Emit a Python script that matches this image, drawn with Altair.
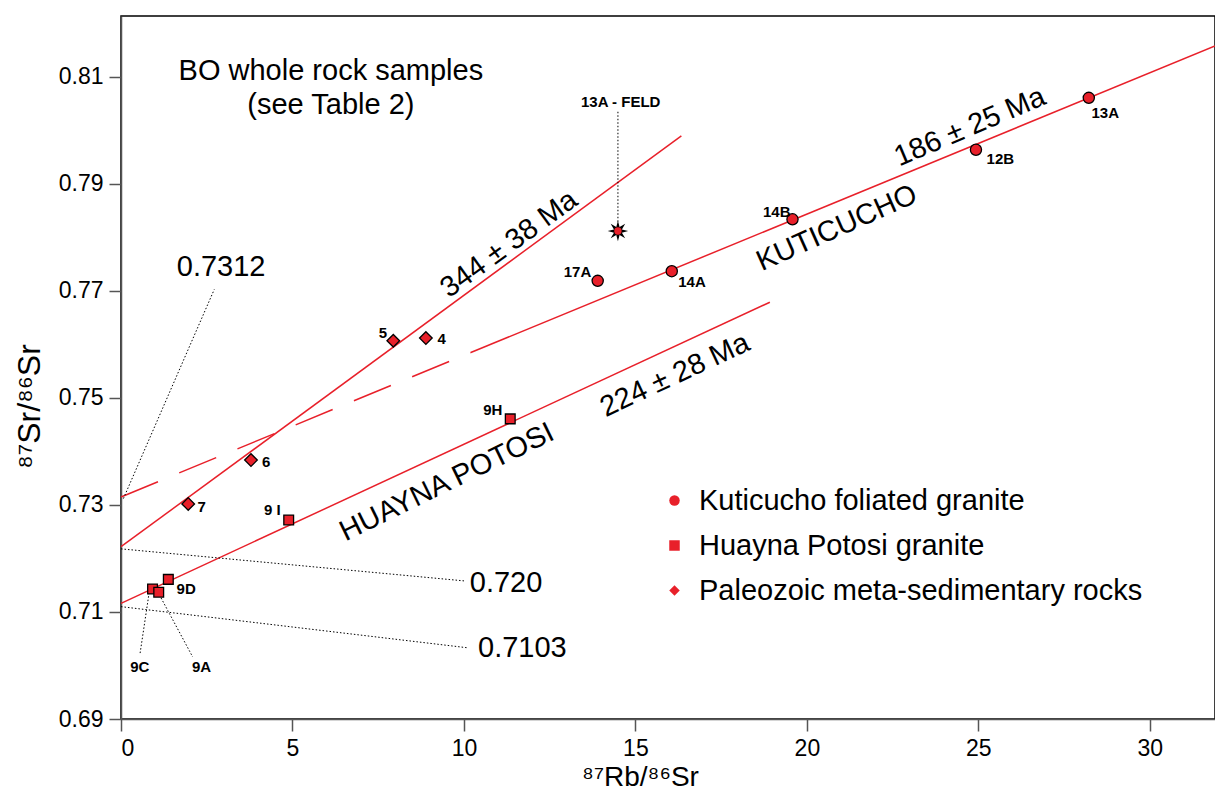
import math
import altair as alt
import pandas as pd

# ---------------- data ----------------
kut_names = ["13A", "12B", "14B", "14A", "17A"]
kut_x = [28.22, 24.93, 19.58, 16.06, 13.90]
kut_y = [0.8061, 0.7964, 0.7834, 0.7737, 0.7719]

hua_names = ["9H", "9 I", "9D", "9C", "9A"]
hua_x = [11.35, 4.89, 1.38, 0.92, 1.10]
hua_y = [0.7461, 0.7272, 0.7161, 0.7143, 0.7137]

pal_names = ["5", "4", "6", "7"]
pal_x = [7.94, 8.89, 3.79, 1.96]
pal_y = [0.7607, 0.7612, 0.7384, 0.7302]

feld_x = [14.49]
feld_y = [0.7812]

groups = ["Kuticucho foliated granite", "Huayna Potosi granite",
          "Paleozoic meta-sedimentary rocks"]

# isochron segments (x, y) -> (x2, y2)
iso_x = [0.0, 0.0, 10.2]
iso_y = [0.7222, 0.7116, 0.7585]
iso_x2 = [16.34, 18.92, 31.9]
iso_y2 = [0.7990, 0.7679, 0.8158]
dash_x, dash_y, dash_x2, dash_y2 = [0.0], [0.7315], [10.2], [0.7585]

# dotted callouts
dot_x = [0.07, 0.0, 0.0, 0.82, 1.12, 14.49]
dot_y = [0.7312, 0.7218, 0.7110, 0.7136, 0.7132, 0.8035]
dot_x2 = [2.72, 10.03, 10.12, 0.55, 2.09, 14.49]
dot_y2 = [0.7703, 0.7158, 0.7033, 0.7020, 0.7016, 0.7829]

# small bold sample labels
lab_text = ["5", "4", "6", "7", "9 I", "9H", "9D", "9C", "9A",
            "17A", "14A", "14B", "12B", "13A", "13A - FELD"]
lab_x = [7.64, 9.35, 4.23, 2.35, 4.41, 10.84, 1.90, 0.55, 2.35,
         13.31, 16.65, 19.12, 25.64, 28.70, 14.57]
lab_y = [0.7622, 0.7610, 0.7381, 0.7297, 0.7291, 0.7478, 0.7143, 0.6997, 0.6997,
         0.7736, 0.7716, 0.7848, 0.7947, 0.8032, 0.8053]

# rotated annotations
rot_text = ["344 ± 38 Ma", "186 ± 25 Ma", "KUTICUCHO", "HUAYNA POTOSI", "224 ± 28 Ma"]
rot_x = [11.31, 24.75, 20.87, 9.50, 16.15]
rot_y = [0.7788, 0.8007, 0.7818, 0.7343, 0.7543]
rot_angle = [324, 337, 336, 334, 335]

# plain annotations
ann_center_text = ["BO whole rock samples\n(see Table 2)", "0.7312"]
ann_center_x = [6.12, 2.92]
ann_center_y = [0.8111, 0.7745]
ann_left_text = ["0.720", "0.7103"]
ann_left_x = [10.17, 10.41]
ann_left_y = [0.7154, 0.7033]

x_ticks = [0, 5, 10, 15, 20, 25, 30]
y_ticks = [0.69, 0.71, 0.73, 0.75, 0.77, 0.79, 0.81]

# ---------------- styling ----------------
RED = "#e8202a"
FONT = "Liberation Sans"


def star_path(n=8, r_in=0.42):
    pts = []
    for i in range(2 * n):
        r = 1.0 if i % 2 == 0 else r_in
        a = math.pi * i / n - math.pi / 2
        pts.append(f"{r * math.cos(a):.3f},{r * math.sin(a):.3f}")
    return "M" + "L".join(pts) + "Z"


xs = alt.Scale(domain=[0, 31.9], nice=False, zero=False)
ys = alt.Scale(domain=[0.69, 0.8214], nice=False, zero=False)

xaxis = alt.Axis(values=x_ticks, format="d", grid=False, tickSize=12,
                 labelFontSize=23, labelPadding=6, labelFont=FONT,
                 domainColor="#555", tickColor="#555", labelColor="black",
                 domainWidth=1.5, tickWidth=1.5,
                 title="⁸⁷Rb/⁸⁶Sr", titleFont=FONT, titleFontSize=28,
                 titleFontWeight="normal", titleX=519, titleY=58,
                 titleAlign="center", titleBaseline="middle", titleColor="black")
yaxis = alt.Axis(values=y_ticks, format=".2f", grid=False, tickSize=12,
                 labelFontSize=23, labelPadding=6, labelFont=FONT,
                 domainColor="#555", tickColor="#555", labelColor="black",
                 domainWidth=1.5, tickWidth=1.5,
                 title="⁸⁷Sr/⁸⁶Sr", titleFont=FONT, titleFontSize=32,
                 titleFontWeight="normal", titleX=-92, titleY=390, titleAngle=270,
                 titleAlign="center", titleBaseline="middle", titleColor="black")


def X(f="x"):
    return alt.X(f"{f}:Q", scale=xs, axis=xaxis)


def Y(f="y"):
    return alt.Y(f"{f}:Q", scale=ys, axis=yaxis)


iso_df = pd.DataFrame({"x": iso_x, "y": iso_y, "x2": iso_x2, "y2": iso_y2})
dash_df = pd.DataFrame({"x": dash_x, "y": dash_y, "x2": dash_x2, "y2": dash_y2})
dot_df = pd.DataFrame({"x": dot_x, "y": dot_y, "x2": dot_x2, "y2": dot_y2})

iso = alt.Chart(iso_df).mark_rule(color=RED, strokeWidth=1.5).encode(
    x=X(), y=Y(), x2="x2:Q", y2="y2:Q")
dash = alt.Chart(dash_df).mark_rule(color=RED, strokeWidth=1.5, strokeDash=[40, 23]).encode(
    x=X(), y=Y(), x2="x2:Q", y2="y2:Q")
dots = alt.Chart(dot_df).mark_rule(color="black", strokeWidth=1, strokeDash=[1.5, 2]).encode(
    x=X(), y=Y(), x2="x2:Q", y2="y2:Q")

shape_scale = alt.Scale(domain=groups, range=["circle", "square", "diamond"])
legend = alt.Legend(orient="none", legendX=539, legendY=470, title=None,
                    labelFontSize=29, labelFont=FONT, labelColor="black",
                    symbolSize=110, symbolFillColor=RED,
                    symbolStrokeColor="black", symbolStrokeWidth=1.2,
                    rowPadding=15, labelOffset=10, padding=0, labelLimit=1000)


def group_layer(xv, yv, g, size):
    df = pd.DataFrame({"x": xv, "y": yv, "g": [g] * len(xv)})
    return alt.Chart(df).mark_point(filled=True, opacity=1, size=size).encode(
        x=X(), y=Y(),
        shape=alt.Shape("g:N", scale=shape_scale, legend=legend),
        fill=alt.value(RED), stroke=alt.value("black"),
        strokeWidth=alt.value(1.3))


p_kut = group_layer(kut_x, kut_y, groups[0], 125)
p_hua = group_layer(hua_x, hua_y, groups[1], 95)
p_pal = group_layer(pal_x, pal_y, groups[2], 160)

feld_df = pd.DataFrame({"x": feld_x, "y": feld_y})
star = alt.Chart(feld_df).mark_point(shape=star_path(), filled=True, fill="black",
                                     size=420, opacity=1).encode(x=X(), y=Y())
star_c = alt.Chart(feld_df).mark_point(shape="circle", filled=True, fill=RED,
                                       size=55, opacity=1).encode(x=X(), y=Y())

lab_df = pd.DataFrame({"x": lab_x, "y": lab_y, "t": lab_text})
labels = alt.Chart(lab_df).mark_text(font=FONT, fontSize=15, fontWeight="bold",
                                     color="black", align="center", baseline="middle").encode(
    x=X(), y=Y(), text="t:N")

rot_df = pd.DataFrame({"x": rot_x, "y": rot_y, "t": rot_text, "a": rot_angle})
rot = alt.Chart(rot_df).mark_text(font=FONT, fontSize=29, color="black",
                                  align="center", baseline="middle").encode(
    x=X(), y=Y(), text="t:N", angle=alt.Angle("a:Q", scale=None))

annc_df = pd.DataFrame({"x": ann_center_x, "y": ann_center_y, "t": ann_center_text})
annc = alt.Chart(annc_df).mark_text(font=FONT, fontSize=29, color="black", align="center",
                                    baseline="middle", lineBreak="\n", lineHeight=34).encode(
    x=X(), y=Y(), text="t:N")

annl_df = pd.DataFrame({"x": ann_left_x, "y": ann_left_y, "t": ann_left_text})
annl = alt.Chart(annl_df).mark_text(font=FONT, fontSize=29, color="black", align="left",
                                    baseline="middle").encode(
    x=X(), y=Y(), text="t:N")

chart = alt.layer(iso, dash, dots, p_kut, p_hua, p_pal, star, star_c,
                  labels, rot, annc, annl).properties(
    width=1094, height=703,
    autosize=alt.AutoSizeParams(type="none"),
    padding={"left": 121, "top": 16, "right": 0, "bottom": 71},
    background="white",
).configure_view(stroke="black", strokeWidth=1.5)

chart.save("out.html", embed_options={"renderer": "svg", "actions": False})
